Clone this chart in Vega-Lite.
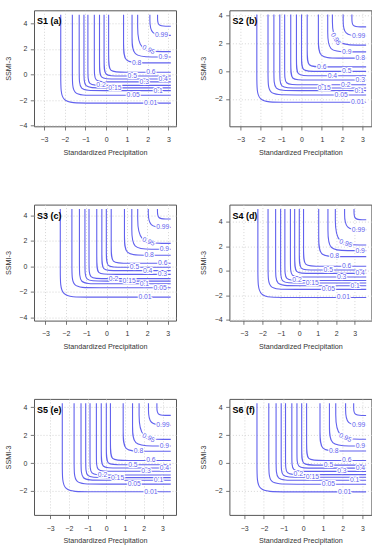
{
"$schema": "https://vega.github.io/schema/vega-lite/v6.json",
"background": "white",
"padding": {"left": 3, "top": 9.3, "right": 0, "bottom": 0},
"datasets": {
"lines": [
{"p":"S1","l":"0.01","i":0,"x":-2.19,"y":4.67},{"p":"S1","l":"0.01","i":1,"x":-2.19,"y":-0.53},{"p":"S1","l":"0.01","i":2,"x":-2.19,"y":-2.24},{"p":"S1","l":"0.01","i":3,"x":-1.13,"y":-2.24},{"p":"S1","l":"0.01","i":4,"x":3.12,"y":-2.24},
{"p":"S1","l":"0.05","i":0,"x":-1.63,"y":4.67},{"p":"S1","l":"0.05","i":1,"x":-1.63,"y":-0.23},{"p":"S1","l":"0.05","i":2,"x":-1.63,"y":-1.63},{"p":"S1","l":"0.05","i":3,"x":-0.76,"y":-1.63},{"p":"S1","l":"0.05","i":4,"x":3.12,"y":-1.63},
{"p":"S1","l":"0.1","i":0,"x":-1.30,"y":4.67},{"p":"S1","l":"0.1","i":1,"x":-1.30,"y":-0.09},{"p":"S1","l":"0.1","i":2,"x":-1.30,"y":-1.26},{"p":"S1","l":"0.1","i":3,"x":-0.58,"y":-1.26},{"p":"S1","l":"0.1","i":4,"x":3.12,"y":-1.26},
{"p":"S1","l":"0.15","i":0,"x":-1.07,"y":4.67},{"p":"S1","l":"0.15","i":1,"x":-1.07,"y":-0.04},{"p":"S1","l":"0.15","i":2,"x":-1.07,"y":-1.05},{"p":"S1","l":"0.15","i":3,"x":-0.44,"y":-1.05},{"p":"S1","l":"0.15","i":4,"x":3.12,"y":-1.05},
{"p":"S1","l":"0.2","i":0,"x":-0.88,"y":4.67},{"p":"S1","l":"0.2","i":1,"x":-0.88,"y":0.08},{"p":"S1","l":"0.2","i":2,"x":-0.88,"y":-0.85},{"p":"S1","l":"0.2","i":3,"x":-0.30,"y":-0.85},{"p":"S1","l":"0.2","i":4,"x":3.12,"y":-0.85},
{"p":"S1","l":"0.3","i":0,"x":-0.57,"y":4.67},{"p":"S1","l":"0.3","i":1,"x":-0.57,"y":0.35},{"p":"S1","l":"0.3","i":2,"x":-0.57,"y":-0.58},{"p":"S1","l":"0.3","i":3,"x":0.01,"y":-0.58},{"p":"S1","l":"0.3","i":4,"x":3.12,"y":-0.58},
{"p":"S1","l":"0.4","i":0,"x":-0.32,"y":4.67},{"p":"S1","l":"0.4","i":1,"x":-0.32,"y":0.58},{"p":"S1","l":"0.4","i":2,"x":-0.32,"y":-0.35},{"p":"S1","l":"0.4","i":3,"x":0.26,"y":-0.35},{"p":"S1","l":"0.4","i":4,"x":3.12,"y":-0.35},
{"p":"S1","l":"0.5","i":0,"x":-0.10,"y":4.67},{"p":"S1","l":"0.5","i":1,"x":-0.10,"y":0.81},{"p":"S1","l":"0.5","i":2,"x":-0.10,"y":-0.12},{"p":"S1","l":"0.5","i":3,"x":0.48,"y":-0.12},{"p":"S1","l":"0.5","i":4,"x":3.12,"y":-0.12},
{"p":"S1","l":"0.6","i":0,"x":0.12,"y":4.67},{"p":"S1","l":"0.6","i":1,"x":0.12,"y":1.18},{"p":"S1","l":"0.6","i":2,"x":0.12,"y":0.17},{"p":"S1","l":"0.6","i":3,"x":0.75,"y":0.17},{"p":"S1","l":"0.6","i":4,"x":3.12,"y":0.17},
{"p":"S1","l":"0.8","i":0,"x":0.84,"y":4.67},{"p":"S1","l":"0.8","i":1,"x":0.84,"y":2.30},{"p":"S1","l":"0.8","i":2,"x":0.84,"y":0.90},{"p":"S1","l":"0.8","i":3,"x":1.71,"y":0.90},{"p":"S1","l":"0.8","i":4,"x":3.12,"y":0.90},
{"p":"S1","l":"0.9","i":0,"x":1.25,"y":4.67},{"p":"S1","l":"0.9","i":1,"x":1.25,"y":2.92},{"p":"S1","l":"0.9","i":2,"x":1.25,"y":1.36},{"p":"S1","l":"0.9","i":3,"x":2.22,"y":1.36},{"p":"S1","l":"0.9","i":4,"x":3.12,"y":1.36},
{"p":"S1","l":"0.95","i":0,"x":1.52,"y":4.67},{"p":"S1","l":"0.95","i":1,"x":1.52,"y":3.96},{"p":"S1","l":"0.95","i":2,"x":1.52,"y":1.78},{"p":"S1","l":"0.95","i":3,"x":2.87,"y":1.78},{"p":"S1","l":"0.95","i":4,"x":3.12,"y":1.78},
{"p":"S1","l":"0.99","i":0,"x":2.11,"y":4.67},{"p":"S1","l":"0.99","i":1,"x":2.11,"y":4.45},{"p":"S1","l":"0.99","i":2,"x":2.11,"y":3.05},{"p":"S1","l":"0.99","i":3,"x":2.98,"y":3.05},{"p":"S1","l":"0.99","i":4,"x":3.12,"y":3.05},
{"p":"S1","l":"0.999","i":0,"x":2.48,"y":4.67},{"p":"S1","l":"0.999","i":1,"x":2.48,"y":4.47},{"p":"S1","l":"0.999","i":2,"x":2.48,"y":3.77},{"p":"S1","l":"0.999","i":3,"x":2.91,"y":3.77},{"p":"S1","l":"0.999","i":4,"x":3.12,"y":3.77},

{"p":"S2","l":"0.01","i":0,"x":-2.20,"y":4.05},{"p":"S2","l":"0.01","i":1,"x":-2.20,"y":-0.67},{"p":"S2","l":"0.01","i":2,"x":-2.20,"y":-2.24},{"p":"S2","l":"0.01","i":3,"x":-1.11,"y":-2.24},{"p":"S2","l":"0.01","i":4,"x":3.18,"y":-2.24},
{"p":"S2","l":"0.05","i":0,"x":-1.65,"y":4.05},{"p":"S2","l":"0.05","i":1,"x":-1.65,"y":-0.42},{"p":"S2","l":"0.05","i":2,"x":-1.65,"y":-1.71},{"p":"S2","l":"0.05","i":3,"x":-0.76,"y":-1.71},{"p":"S2","l":"0.05","i":4,"x":3.18,"y":-1.71},
{"p":"S2","l":"0.1","i":0,"x":-1.36,"y":4.05},{"p":"S2","l":"0.1","i":1,"x":-1.36,"y":-0.33},{"p":"S2","l":"0.1","i":2,"x":-1.36,"y":-1.40},{"p":"S2","l":"0.1","i":3,"x":-0.62,"y":-1.40},{"p":"S2","l":"0.1","i":4,"x":3.18,"y":-1.40},
{"p":"S2","l":"0.15","i":0,"x":-1.07,"y":4.05},{"p":"S2","l":"0.15","i":1,"x":-1.07,"y":-0.28},{"p":"S2","l":"0.15","i":2,"x":-1.07,"y":-1.21},{"p":"S2","l":"0.15","i":3,"x":-0.43,"y":-1.21},{"p":"S2","l":"0.15","i":4,"x":3.18,"y":-1.21},
{"p":"S2","l":"0.2","i":0,"x":-0.83,"y":4.05},{"p":"S2","l":"0.2","i":1,"x":-0.83,"y":-0.12},{"p":"S2","l":"0.2","i":2,"x":-0.83,"y":-0.98},{"p":"S2","l":"0.2","i":3,"x":-0.24,"y":-0.98},{"p":"S2","l":"0.2","i":4,"x":3.18,"y":-0.98},
{"p":"S2","l":"0.3","i":0,"x":-0.53,"y":4.05},{"p":"S2","l":"0.3","i":1,"x":-0.53,"y":0.22},{"p":"S2","l":"0.3","i":2,"x":-0.53,"y":-0.64},{"p":"S2","l":"0.3","i":3,"x":0.06,"y":-0.64},{"p":"S2","l":"0.3","i":4,"x":3.18,"y":-0.64},
{"p":"S2","l":"0.4","i":0,"x":-0.25,"y":4.05},{"p":"S2","l":"0.4","i":1,"x":-0.25,"y":0.53},{"p":"S2","l":"0.4","i":2,"x":-0.25,"y":-0.33},{"p":"S2","l":"0.4","i":3,"x":0.34,"y":-0.33},{"p":"S2","l":"0.4","i":4,"x":3.18,"y":-0.33},
{"p":"S2","l":"0.5","i":0,"x":0.0,"y":4.05},{"p":"S2","l":"0.5","i":1,"x":0.0,"y":0.84},{"p":"S2","l":"0.5","i":2,"x":0.0,"y":-0.02},{"p":"S2","l":"0.5","i":3,"x":0.59,"y":-0.02},{"p":"S2","l":"0.5","i":4,"x":3.18,"y":-0.02},
{"p":"S2","l":"0.6","i":0,"x":0.28,"y":4.05},{"p":"S2","l":"0.6","i":1,"x":0.28,"y":1.23},{"p":"S2","l":"0.6","i":2,"x":0.28,"y":0.30},{"p":"S2","l":"0.6","i":3,"x":0.92,"y":0.30},{"p":"S2","l":"0.6","i":4,"x":3.18,"y":0.30},
{"p":"S2","l":"0.8","i":0,"x":0.83,"y":4.05},{"p":"S2","l":"0.8","i":1,"x":0.83,"y":2.22},{"p":"S2","l":"0.8","i":2,"x":0.83,"y":0.93},{"p":"S2","l":"0.8","i":3,"x":1.72,"y":0.93},{"p":"S2","l":"0.8","i":4,"x":3.18,"y":0.93},
{"p":"S2","l":"0.9","i":0,"x":1.29,"y":4.05},{"p":"S2","l":"0.9","i":1,"x":1.29,"y":2.81},{"p":"S2","l":"0.9","i":2,"x":1.29,"y":1.38},{"p":"S2","l":"0.9","i":3,"x":2.28,"y":1.38},{"p":"S2","l":"0.9","i":4,"x":3.18,"y":1.38},
{"p":"S2","l":"0.95","i":0,"x":1.52,"y":4.05},{"p":"S2","l":"0.95","i":1,"x":1.52,"y":3.86},{"p":"S2","l":"0.95","i":2,"x":1.52,"y":1.86},{"p":"S2","l":"0.95","i":3,"x":2.91,"y":1.86},{"p":"S2","l":"0.95","i":4,"x":3.18,"y":1.86},
{"p":"S2","l":"0.99","i":0,"x":2.05,"y":4.05},{"p":"S2","l":"0.99","i":1,"x":2.05,"y":3.81},{"p":"S2","l":"0.99","i":2,"x":2.05,"y":2.52},{"p":"S2","l":"0.99","i":3,"x":2.94,"y":2.52},{"p":"S2","l":"0.99","i":4,"x":3.18,"y":2.52},
{"p":"S2","l":"0.999","i":0,"x":2.48,"y":4.05},{"p":"S2","l":"0.999","i":1,"x":2.48,"y":3.81},{"p":"S2","l":"0.999","i":2,"x":2.48,"y":3.17},{"p":"S2","l":"0.999","i":3,"x":2.93,"y":3.17},{"p":"S2","l":"0.999","i":4,"x":3.18,"y":3.17},

{"p":"S3","l":"0.01","i":0,"x":-2.27,"y":4.5},{"p":"S3","l":"0.01","i":1,"x":-2.27,"y":-0.68},{"p":"S3","l":"0.01","i":2,"x":-2.27,"y":-2.42},{"p":"S3","l":"0.01","i":3,"x":-1.19,"y":-2.42},{"p":"S3","l":"0.01","i":4,"x":3.15,"y":-2.42},
{"p":"S3","l":"0.05","i":0,"x":-1.70,"y":4.5},{"p":"S3","l":"0.05","i":1,"x":-1.70,"y":-0.26},{"p":"S3","l":"0.05","i":2,"x":-1.70,"y":-1.68},{"p":"S3","l":"0.05","i":3,"x":-0.82,"y":-1.68},{"p":"S3","l":"0.05","i":4,"x":3.15,"y":-1.68},
{"p":"S3","l":"0.1","i":0,"x":-1.33,"y":4.5},{"p":"S3","l":"0.1","i":1,"x":-1.33,"y":-0.19},{"p":"S3","l":"0.1","i":2,"x":-1.33,"y":-1.37},{"p":"S3","l":"0.1","i":3,"x":-0.60,"y":-1.37},{"p":"S3","l":"0.1","i":4,"x":3.15,"y":-1.37},
{"p":"S3","l":"0.15","i":0,"x":-1.06,"y":4.5},{"p":"S3","l":"0.15","i":1,"x":-1.06,"y":-0.13},{"p":"S3","l":"0.15","i":2,"x":-1.06,"y":-1.16},{"p":"S3","l":"0.15","i":3,"x":-0.42,"y":-1.16},{"p":"S3","l":"0.15","i":4,"x":3.15,"y":-1.16},
{"p":"S3","l":"0.2","i":0,"x":-0.86,"y":4.5},{"p":"S3","l":"0.2","i":1,"x":-0.86,"y":-0.02},{"p":"S3","l":"0.2","i":2,"x":-0.86,"y":-0.97},{"p":"S3","l":"0.2","i":3,"x":-0.27,"y":-0.97},{"p":"S3","l":"0.2","i":4,"x":3.15,"y":-0.97},
{"p":"S3","l":"0.3","i":0,"x":-0.48,"y":4.5},{"p":"S3","l":"0.3","i":1,"x":-0.48,"y":0.32},{"p":"S3","l":"0.3","i":2,"x":-0.48,"y":-0.63},{"p":"S3","l":"0.3","i":3,"x":0.11,"y":-0.63},{"p":"S3","l":"0.3","i":4,"x":3.15,"y":-0.63},
{"p":"S3","l":"0.4","i":0,"x":-0.23,"y":4.5},{"p":"S3","l":"0.4","i":1,"x":-0.23,"y":0.61},{"p":"S3","l":"0.4","i":2,"x":-0.23,"y":-0.34},{"p":"S3","l":"0.4","i":3,"x":0.36,"y":-0.34},{"p":"S3","l":"0.4","i":4,"x":3.15,"y":-0.34},
{"p":"S3","l":"0.5","i":0,"x":-0.01,"y":4.5},{"p":"S3","l":"0.5","i":1,"x":-0.01,"y":0.87},{"p":"S3","l":"0.5","i":2,"x":-0.01,"y":-0.08},{"p":"S3","l":"0.5","i":3,"x":0.58,"y":-0.08},{"p":"S3","l":"0.5","i":4,"x":3.15,"y":-0.08},
{"p":"S3","l":"0.6","i":0,"x":0.23,"y":4.5},{"p":"S3","l":"0.6","i":1,"x":0.23,"y":1.27},{"p":"S3","l":"0.6","i":2,"x":0.23,"y":0.24},{"p":"S3","l":"0.6","i":3,"x":0.87,"y":0.24},{"p":"S3","l":"0.6","i":4,"x":3.15,"y":0.24},
{"p":"S3","l":"0.8","i":0,"x":0.88,"y":4.5},{"p":"S3","l":"0.8","i":1,"x":0.88,"y":2.29},{"p":"S3","l":"0.8","i":2,"x":0.88,"y":0.87},{"p":"S3","l":"0.8","i":3,"x":1.76,"y":0.87},{"p":"S3","l":"0.8","i":4,"x":3.15,"y":0.87},
{"p":"S3","l":"0.9","i":0,"x":1.24,"y":4.5},{"p":"S3","l":"0.9","i":1,"x":1.24,"y":2.92},{"p":"S3","l":"0.9","i":2,"x":1.24,"y":1.34},{"p":"S3","l":"0.9","i":3,"x":2.22,"y":1.34},{"p":"S3","l":"0.9","i":4,"x":3.15,"y":1.34},
{"p":"S3","l":"0.95","i":0,"x":1.53,"y":4.5},{"p":"S3","l":"0.95","i":1,"x":1.53,"y":4.01},{"p":"S3","l":"0.95","i":2,"x":1.53,"y":1.80},{"p":"S3","l":"0.95","i":3,"x":2.90,"y":1.80},{"p":"S3","l":"0.95","i":4,"x":3.15,"y":1.80},
{"p":"S3","l":"0.99","i":0,"x":2.05,"y":4.5},{"p":"S3","l":"0.99","i":1,"x":2.05,"y":4.40},{"p":"S3","l":"0.99","i":2,"x":2.05,"y":3.05},{"p":"S3","l":"0.99","i":3,"x":2.93,"y":3.05},{"p":"S3","l":"0.99","i":4,"x":3.15,"y":3.05},
{"p":"S3","l":"0.999","i":0,"x":2.50,"y":4.5},{"p":"S3","l":"0.999","i":1,"x":2.50,"y":4.42},{"p":"S3","l":"0.999","i":2,"x":2.50,"y":3.71},{"p":"S3","l":"0.999","i":3,"x":2.94,"y":3.71},{"p":"S3","l":"0.999","i":4,"x":3.15,"y":3.71},

{"p":"S4","l":"0.01","i":0,"x":-2.24,"y":5.05},{"p":"S4","l":"0.01","i":1,"x":-2.24,"y":-0.38},{"p":"S4","l":"0.01","i":2,"x":-2.24,"y":-2.19},{"p":"S4","l":"0.01","i":3,"x":-1.04,"y":-2.19},{"p":"S4","l":"0.01","i":4,"x":3.62,"y":-2.19},
{"p":"S4","l":"0.05","i":0,"x":-1.69,"y":5.05},{"p":"S4","l":"0.05","i":1,"x":-1.69,"y":-0.05},{"p":"S4","l":"0.05","i":2,"x":-1.69,"y":-1.53},{"p":"S4","l":"0.05","i":3,"x":-0.71,"y":-1.53},{"p":"S4","l":"0.05","i":4,"x":3.62,"y":-1.53},
{"p":"S4","l":"0.1","i":0,"x":-1.28,"y":5.05},{"p":"S4","l":"0.1","i":1,"x":-1.28,"y":0.0},{"p":"S4","l":"0.1","i":2,"x":-1.28,"y":-1.23},{"p":"S4","l":"0.1","i":3,"x":-0.46,"y":-1.23},{"p":"S4","l":"0.1","i":4,"x":3.62,"y":-1.23},
{"p":"S4","l":"0.15","i":0,"x":-1.01,"y":5.05},{"p":"S4","l":"0.15","i":1,"x":-1.01,"y":0.06},{"p":"S4","l":"0.15","i":2,"x":-1.01,"y":-1.01},{"p":"S4","l":"0.15","i":3,"x":-0.30,"y":-1.01},{"p":"S4","l":"0.15","i":4,"x":3.62,"y":-1.01},
{"p":"S4","l":"0.2","i":0,"x":-0.78,"y":5.05},{"p":"S4","l":"0.2","i":1,"x":-0.78,"y":0.19},{"p":"S4","l":"0.2","i":2,"x":-0.78,"y":-0.80},{"p":"S4","l":"0.2","i":3,"x":-0.13,"y":-0.80},{"p":"S4","l":"0.2","i":4,"x":3.62,"y":-0.80},
{"p":"S4","l":"0.3","i":0,"x":-0.48,"y":5.05},{"p":"S4","l":"0.3","i":1,"x":-0.48,"y":0.47},{"p":"S4","l":"0.3","i":2,"x":-0.48,"y":-0.52},{"p":"S4","l":"0.3","i":3,"x":0.17,"y":-0.52},{"p":"S4","l":"0.3","i":4,"x":3.62,"y":-0.52},
{"p":"S4","l":"0.4","i":0,"x":-0.25,"y":5.05},{"p":"S4","l":"0.4","i":1,"x":-0.25,"y":0.77},{"p":"S4","l":"0.4","i":2,"x":-0.25,"y":-0.22},{"p":"S4","l":"0.4","i":3,"x":0.40,"y":-0.22},{"p":"S4","l":"0.4","i":4,"x":3.62,"y":-0.22},
{"p":"S4","l":"0.5","i":0,"x":0.0,"y":5.05},{"p":"S4","l":"0.5","i":1,"x":0.0,"y":1.04},{"p":"S4","l":"0.5","i":2,"x":0.0,"y":0.05},{"p":"S4","l":"0.5","i":3,"x":0.65,"y":0.05},{"p":"S4","l":"0.5","i":4,"x":3.62,"y":0.05},
{"p":"S4","l":"0.6","i":0,"x":0.23,"y":5.05},{"p":"S4","l":"0.6","i":1,"x":0.23,"y":1.43},{"p":"S4","l":"0.6","i":2,"x":0.23,"y":0.36},{"p":"S4","l":"0.6","i":3,"x":0.94,"y":0.36},{"p":"S4","l":"0.6","i":4,"x":3.62,"y":0.36},
{"p":"S4","l":"0.8","i":0,"x":1.05,"y":5.05},{"p":"S4","l":"0.8","i":1,"x":1.05,"y":2.63},{"p":"S4","l":"0.8","i":2,"x":1.05,"y":1.15},{"p":"S4","l":"0.8","i":3,"x":2.03,"y":1.15},{"p":"S4","l":"0.8","i":4,"x":3.62,"y":1.15},
{"p":"S4","l":"0.9","i":0,"x":1.55,"y":5.05},{"p":"S4","l":"0.9","i":1,"x":1.55,"y":3.28},{"p":"S4","l":"0.9","i":2,"x":1.55,"y":1.64},{"p":"S4","l":"0.9","i":3,"x":2.64,"y":1.64},{"p":"S4","l":"0.9","i":4,"x":3.62,"y":1.64},
{"p":"S4","l":"0.95","i":0,"x":1.95,"y":5.05},{"p":"S4","l":"0.95","i":1,"x":1.95,"y":4.40},{"p":"S4","l":"0.95","i":2,"x":1.95,"y":2.10},{"p":"S4","l":"0.95","i":3,"x":3.47,"y":2.10},{"p":"S4","l":"0.95","i":4,"x":3.62,"y":2.10},
{"p":"S4","l":"0.99","i":0,"x":2.45,"y":5.05},{"p":"S4","l":"0.99","i":1,"x":2.45,"y":4.82},{"p":"S4","l":"0.99","i":2,"x":2.45,"y":3.34},{"p":"S4","l":"0.99","i":3,"x":3.43,"y":3.34},{"p":"S4","l":"0.99","i":4,"x":3.62,"y":3.34},
{"p":"S4","l":"0.999","i":0,"x":2.96,"y":5.05},{"p":"S4","l":"0.999","i":1,"x":2.96,"y":4.90},{"p":"S4","l":"0.999","i":2,"x":2.96,"y":4.16},{"p":"S4","l":"0.999","i":3,"x":3.45,"y":4.16},{"p":"S4","l":"0.999","i":4,"x":3.62,"y":4.16},

{"p":"S5","l":"0.01","i":0,"x":-2.35,"y":4.3},{"p":"S5","l":"0.01","i":1,"x":-2.35,"y":-0.50},{"p":"S5","l":"0.01","i":2,"x":-2.35,"y":-2.06},{"p":"S5","l":"0.01","i":3,"x":-1.17,"y":-2.06},{"p":"S5","l":"0.01","i":4,"x":3.44,"y":-2.06},
{"p":"S5","l":"0.05","i":0,"x":-1.72,"y":4.3},{"p":"S5","l":"0.05","i":1,"x":-1.72,"y":-0.23},{"p":"S5","l":"0.05","i":2,"x":-1.72,"y":-1.51},{"p":"S5","l":"0.05","i":3,"x":-0.76,"y":-1.51},{"p":"S5","l":"0.05","i":4,"x":3.44,"y":-1.51},
{"p":"S5","l":"0.1","i":0,"x":-1.35,"y":4.3},{"p":"S5","l":"0.1","i":1,"x":-1.35,"y":-0.17},{"p":"S5","l":"0.1","i":2,"x":-1.35,"y":-1.23},{"p":"S5","l":"0.1","i":3,"x":-0.55,"y":-1.23},{"p":"S5","l":"0.1","i":4,"x":3.44,"y":-1.23},
{"p":"S5","l":"0.15","i":0,"x":-1.10,"y":4.3},{"p":"S5","l":"0.15","i":1,"x":-1.10,"y":-0.12},{"p":"S5","l":"0.15","i":2,"x":-1.10,"y":-1.04},{"p":"S5","l":"0.15","i":3,"x":-0.41,"y":-1.04},{"p":"S5","l":"0.15","i":4,"x":3.44,"y":-1.04},
{"p":"S5","l":"0.2","i":0,"x":-0.87,"y":4.3},{"p":"S5","l":"0.2","i":1,"x":-0.87,"y":0.0},{"p":"S5","l":"0.2","i":2,"x":-0.87,"y":-0.85},{"p":"S5","l":"0.2","i":3,"x":-0.23,"y":-0.85},{"p":"S5","l":"0.2","i":4,"x":3.44,"y":-0.85},
{"p":"S5","l":"0.3","i":0,"x":-0.53,"y":4.3},{"p":"S5","l":"0.3","i":1,"x":-0.53,"y":0.26},{"p":"S5","l":"0.3","i":2,"x":-0.53,"y":-0.59},{"p":"S5","l":"0.3","i":3,"x":0.11,"y":-0.59},{"p":"S5","l":"0.3","i":4,"x":3.44,"y":-0.59},
{"p":"S5","l":"0.4","i":0,"x":-0.27,"y":4.3},{"p":"S5","l":"0.4","i":1,"x":-0.27,"y":0.50},{"p":"S5","l":"0.4","i":2,"x":-0.27,"y":-0.35},{"p":"S5","l":"0.4","i":3,"x":0.37,"y":-0.35},{"p":"S5","l":"0.4","i":4,"x":3.44,"y":-0.35},
{"p":"S5","l":"0.5","i":0,"x":0.0,"y":4.3},{"p":"S5","l":"0.5","i":1,"x":0.0,"y":0.73},{"p":"S5","l":"0.5","i":2,"x":0.0,"y":-0.12},{"p":"S5","l":"0.5","i":3,"x":0.64,"y":-0.12},{"p":"S5","l":"0.5","i":4,"x":3.44,"y":-0.12},
{"p":"S5","l":"0.6","i":0,"x":0.22,"y":4.3},{"p":"S5","l":"0.6","i":1,"x":0.22,"y":1.11},{"p":"S5","l":"0.6","i":2,"x":0.22,"y":0.19},{"p":"S5","l":"0.6","i":3,"x":0.91,"y":0.19},{"p":"S5","l":"0.6","i":4,"x":3.44,"y":0.19},
{"p":"S5","l":"0.8","i":0,"x":0.90,"y":4.3},{"p":"S5","l":"0.8","i":1,"x":0.90,"y":2.13},{"p":"S5","l":"0.8","i":2,"x":0.90,"y":0.85},{"p":"S5","l":"0.8","i":3,"x":1.86,"y":0.85},{"p":"S5","l":"0.8","i":4,"x":3.44,"y":0.85},
{"p":"S5","l":"0.9","i":0,"x":1.40,"y":4.3},{"p":"S5","l":"0.9","i":1,"x":1.40,"y":2.65},{"p":"S5","l":"0.9","i":2,"x":1.40,"y":1.23},{"p":"S5","l":"0.9","i":3,"x":2.47,"y":1.23},{"p":"S5","l":"0.9","i":4,"x":3.44,"y":1.23},
{"p":"S5","l":"0.95","i":0,"x":1.75,"y":4.3},{"p":"S5","l":"0.95","i":1,"x":1.75,"y":3.69},{"p":"S5","l":"0.95","i":2,"x":1.75,"y":1.70},{"p":"S5","l":"0.95","i":3,"x":3.25,"y":1.70},{"p":"S5","l":"0.95","i":4,"x":3.44,"y":1.70},
{"p":"S5","l":"0.99","i":0,"x":2.25,"y":4.3},{"p":"S5","l":"0.99","i":1,"x":2.25,"y":4.00},{"p":"S5","l":"0.99","i":2,"x":2.25,"y":2.72},{"p":"S5","l":"0.99","i":3,"x":3.21,"y":2.72},{"p":"S5","l":"0.99","i":4,"x":3.44,"y":2.72},
{"p":"S5","l":"0.999","i":0,"x":2.70,"y":4.3},{"p":"S5","l":"0.999","i":1,"x":2.70,"y":4.07},{"p":"S5","l":"0.999","i":2,"x":2.70,"y":3.43},{"p":"S5","l":"0.999","i":3,"x":3.18,"y":3.43},{"p":"S5","l":"0.999","i":4,"x":3.44,"y":3.43},

{"p":"S6","l":"0.01","i":0,"x":-2.35,"y":4.29},{"p":"S6","l":"0.01","i":1,"x":-2.35,"y":-0.53},{"p":"S6","l":"0.01","i":2,"x":-2.35,"y":-2.09},{"p":"S6","l":"0.01","i":3,"x":-1.23,"y":-2.09},{"p":"S6","l":"0.01","i":4,"x":3.19,"y":-2.09},
{"p":"S6","l":"0.05","i":0,"x":-1.75,"y":4.29},{"p":"S6","l":"0.05","i":1,"x":-1.75,"y":-0.26},{"p":"S6","l":"0.05","i":2,"x":-1.75,"y":-1.54},{"p":"S6","l":"0.05","i":3,"x":-0.83,"y":-1.54},{"p":"S6","l":"0.05","i":4,"x":3.19,"y":-1.54},
{"p":"S6","l":"0.1","i":0,"x":-1.38,"y":4.29},{"p":"S6","l":"0.1","i":1,"x":-1.38,"y":-0.19},{"p":"S6","l":"0.1","i":2,"x":-1.38,"y":-1.26},{"p":"S6","l":"0.1","i":3,"x":-0.61,"y":-1.26},{"p":"S6","l":"0.1","i":4,"x":3.19,"y":-1.26},
{"p":"S6","l":"0.15","i":0,"x":-1.12,"y":4.29},{"p":"S6","l":"0.15","i":1,"x":-1.12,"y":-0.12},{"p":"S6","l":"0.15","i":2,"x":-1.12,"y":-1.04},{"p":"S6","l":"0.15","i":3,"x":-0.46,"y":-1.04},{"p":"S6","l":"0.15","i":4,"x":3.19,"y":-1.04},
{"p":"S6","l":"0.2","i":0,"x":-0.90,"y":4.29},{"p":"S6","l":"0.2","i":1,"x":-0.90,"y":0.0},{"p":"S6","l":"0.2","i":2,"x":-0.90,"y":-0.85},{"p":"S6","l":"0.2","i":3,"x":-0.29,"y":-0.85},{"p":"S6","l":"0.2","i":4,"x":3.19,"y":-0.85},
{"p":"S6","l":"0.3","i":0,"x":-0.58,"y":4.29},{"p":"S6","l":"0.3","i":1,"x":-0.58,"y":0.23},{"p":"S6","l":"0.3","i":2,"x":-0.58,"y":-0.62},{"p":"S6","l":"0.3","i":3,"x":0.03,"y":-0.62},{"p":"S6","l":"0.3","i":4,"x":3.19,"y":-0.62},
{"p":"S6","l":"0.4","i":0,"x":-0.32,"y":4.29},{"p":"S6","l":"0.4","i":1,"x":-0.32,"y":0.47},{"p":"S6","l":"0.4","i":2,"x":-0.32,"y":-0.38},{"p":"S6","l":"0.4","i":3,"x":0.29,"y":-0.38},{"p":"S6","l":"0.4","i":4,"x":3.19,"y":-0.38},
{"p":"S6","l":"0.5","i":0,"x":-0.08,"y":4.29},{"p":"S6","l":"0.5","i":1,"x":-0.08,"y":0.68},{"p":"S6","l":"0.5","i":2,"x":-0.08,"y":-0.17},{"p":"S6","l":"0.5","i":3,"x":0.53,"y":-0.17},{"p":"S6","l":"0.5","i":4,"x":3.19,"y":-0.17},
{"p":"S6","l":"0.6","i":0,"x":0.17,"y":4.29},{"p":"S6","l":"0.6","i":1,"x":0.17,"y":1.09},{"p":"S6","l":"0.6","i":2,"x":0.17,"y":0.17},{"p":"S6","l":"0.6","i":3,"x":0.83,"y":0.17},{"p":"S6","l":"0.6","i":4,"x":3.19,"y":0.17},
{"p":"S6","l":"0.8","i":0,"x":0.85,"y":4.29},{"p":"S6","l":"0.8","i":1,"x":0.85,"y":2.13},{"p":"S6","l":"0.8","i":2,"x":0.85,"y":0.85},{"p":"S6","l":"0.8","i":3,"x":1.77,"y":0.85},{"p":"S6","l":"0.8","i":4,"x":3.19,"y":0.85},
{"p":"S6","l":"0.9","i":0,"x":1.33,"y":4.29},{"p":"S6","l":"0.9","i":1,"x":1.33,"y":2.63},{"p":"S6","l":"0.9","i":2,"x":1.33,"y":1.21},{"p":"S6","l":"0.9","i":3,"x":2.35,"y":1.21},{"p":"S6","l":"0.9","i":4,"x":3.19,"y":1.21},
{"p":"S6","l":"0.95","i":0,"x":1.65,"y":4.29},{"p":"S6","l":"0.95","i":1,"x":1.65,"y":3.69},{"p":"S6","l":"0.95","i":2,"x":1.65,"y":1.70},{"p":"S6","l":"0.95","i":3,"x":3.08,"y":1.70},{"p":"S6","l":"0.95","i":4,"x":3.19,"y":1.70},
{"p":"S6","l":"0.99","i":0,"x":2.15,"y":4.29},{"p":"S6","l":"0.99","i":1,"x":2.15,"y":3.98},{"p":"S6","l":"0.99","i":2,"x":2.15,"y":2.70},{"p":"S6","l":"0.99","i":3,"x":3.07,"y":2.70},{"p":"S6","l":"0.99","i":4,"x":3.19,"y":2.70},
{"p":"S6","l":"0.999","i":0,"x":2.56,"y":4.29},{"p":"S6","l":"0.999","i":1,"x":2.56,"y":4.05},{"p":"S6","l":"0.999","i":2,"x":2.56,"y":3.41},{"p":"S6","l":"0.999","i":3,"x":3.02,"y":3.41},{"p":"S6","l":"0.999","i":4,"x":3.19,"y":3.41}
],
"labels": [
{"p":"S1","l":"0.99","x":2.67,"y":3.05},{"p":"S1","l":"0.95","x":2.05,"y":1.93},{"p":"S1","l":"0.9","x":2.75,"y":1.36},{"p":"S1","l":"0.8","x":1.47,"y":0.91},{"p":"S1","l":"0.6","x":2.16,"y":0.17},{"p":"S1","l":"0.5","x":1.26,"y":-0.12},{"p":"S1","l":"0.4","x":2.75,"y":-0.35},{"p":"S1","l":"0.3","x":1.84,"y":-0.58},{"p":"S1","l":"0.2","x":-0.25,"y":-0.84},{"p":"S1","l":"0.15","x":0.42,"y":-1.05},{"p":"S1","l":"0.1","x":2.51,"y":-1.26},{"p":"S1","l":"0.05","x":1.30,"y":-1.63},{"p":"S1","l":"0.01","x":2.15,"y":-2.24},
{"p":"S2","l":"0.99","x":2.81,"y":2.52},{"p":"S2","l":"0.95","x":1.68,"y":2.3},{"p":"S2","l":"0.9","x":2.23,"y":1.38},{"p":"S2","l":"0.8","x":2.89,"y":0.93},{"p":"S2","l":"0.6","x":1.0,"y":0.30},{"p":"S2","l":"0.5","x":2.23,"y":-0.02},{"p":"S2","l":"0.4","x":1.52,"y":-0.33},{"p":"S2","l":"0.3","x":2.89,"y":-0.64},{"p":"S2","l":"0.2","x":2.18,"y":-0.98},{"p":"S2","l":"0.15","x":1.12,"y":-1.21},{"p":"S2","l":"0.1","x":2.84,"y":-1.40},{"p":"S2","l":"0.05","x":1.95,"y":-1.71},{"p":"S2","l":"0.01","x":2.76,"y":-2.24},
{"p":"S3","l":"0.99","x":2.76,"y":3.05},{"p":"S3","l":"0.95","x":2.06,"y":1.93},{"p":"S3","l":"0.9","x":2.84,"y":1.34},{"p":"S3","l":"0.8","x":2.09,"y":0.87},{"p":"S3","l":"0.6","x":2.76,"y":0.24},{"p":"S3","l":"0.5","x":1.37,"y":-0.08},{"p":"S3","l":"0.4","x":2.02,"y":-0.34},{"p":"S3","l":"0.3","x":2.74,"y":-0.63},{"p":"S3","l":"0.2","x":0.34,"y":-0.97},{"p":"S3","l":"0.15","x":1.11,"y":-1.16},{"p":"S3","l":"0.1","x":1.86,"y":-1.37},{"p":"S3","l":"0.05","x":2.63,"y":-1.68},{"p":"S3","l":"0.01","x":1.89,"y":-2.42},
{"p":"S4","l":"0.99","x":3.2,"y":3.34},{"p":"S4","l":"0.95","x":2.51,"y":2.23},{"p":"S4","l":"0.9","x":3.29,"y":1.64},{"p":"S4","l":"0.8","x":1.9,"y":1.17},{"p":"S4","l":"0.6","x":2.56,"y":0.36},{"p":"S4","l":"0.5","x":1.57,"y":0.05},{"p":"S4","l":"0.4","x":3.29,"y":-0.22},{"p":"S4","l":"0.3","x":2.29,"y":-0.52},{"p":"S4","l":"0.2","x":-0.12,"y":-0.79},{"p":"S4","l":"0.15","x":0.70,"y":-1.01},{"p":"S4","l":"0.1","x":3.02,"y":-1.23},{"p":"S4","l":"0.05","x":1.57,"y":-1.53},{"p":"S4","l":"0.01","x":2.38,"y":-2.19},
{"p":"S5","l":"0.99","x":3.02,"y":2.72},{"p":"S5","l":"0.95","x":2.26,"y":1.81},{"p":"S5","l":"0.9","x":3.10,"y":1.23},{"p":"S5","l":"0.8","x":1.72,"y":0.87},{"p":"S5","l":"0.6","x":2.38,"y":0.19},{"p":"S5","l":"0.5","x":1.42,"y":-0.12},{"p":"S5","l":"0.4","x":3.10,"y":-0.35},{"p":"S5","l":"0.3","x":2.12,"y":-0.59},{"p":"S5","l":"0.2","x":-0.2,"y":-0.84},{"p":"S5","l":"0.15","x":0.60,"y":-1.04},{"p":"S5","l":"0.1","x":2.79,"y":-1.23},{"p":"S5","l":"0.05","x":1.49,"y":-1.51},{"p":"S5","l":"0.01","x":2.38,"y":-2.06},
{"p":"S6","l":"0.99","x":2.81,"y":2.70},{"p":"S6","l":"0.95","x":2.13,"y":1.81},{"p":"S6","l":"0.9","x":2.90,"y":1.21},{"p":"S6","l":"0.8","x":1.55,"y":0.87},{"p":"S6","l":"0.6","x":2.21,"y":0.17},{"p":"S6","l":"0.5","x":1.28,"y":-0.17},{"p":"S6","l":"0.4","x":2.90,"y":-0.38},{"p":"S6","l":"0.3","x":1.96,"y":-0.62},{"p":"S6","l":"0.2","x":-0.25,"y":-0.84},{"p":"S6","l":"0.15","x":0.46,"y":-1.04},{"p":"S6","l":"0.1","x":2.61,"y":-1.26},{"p":"S6","l":"0.05","x":1.28,"y":-1.54},{"p":"S6","l":"0.01","x":2.10,"y":-2.09}
]
},
"columns": 2,
"spacing": {"row": 78.3, "column": 53.4},
"bounds": "flush",
"concat": [
{
 "width": 142, "height": 116, "title": "S1 (a)",
 "encoding": {
  "x": {"field": "x", "type": "quantitative", "title": "Standardized Precipitation", "scale": {"domain": [-3.48, 3.37], "nice": false, "zero": false}, "axis": {"values": [-3,-2,-1,0,1,2,3]}},
  "y": {"field": "y", "type": "quantitative", "title": "SSMI-3", "scale": {"domain": [-4.05, 5.01], "nice": false, "zero": false}, "axis": {"values": [-4,-2,0,2,4]}}
 },
 "layer": [
  {"data": {"name": "lines"}, "transform": [{"filter": "datum.p == 'S1'"}], "mark": {"type": "line", "interpolate": "basis", "color": "#6262ee", "strokeWidth": 1.1}, "encoding": {"detail": {"field": "l", "type": "nominal"}, "order": {"field": "i", "type": "quantitative"}}},
  {"data": {"name": "labels"}, "transform": [{"filter": "datum.p == 'S1' && datum.l != '0.95'"}], "mark": {"type": "text", "fontSize": 6.8, "color": "white", "stroke": "white", "strokeWidth": 2.2}, "encoding": {"text": {"field": "l"}}},
  {"data": {"name": "labels"}, "transform": [{"filter": "datum.p == 'S1' && datum.l != '0.95'"}], "mark": {"type": "text", "fontSize": 6.8, "color": "#6262ee"}, "encoding": {"text": {"field": "l"}}},
  {"data": {"name": "labels"}, "transform": [{"filter": "datum.p == 'S1' && datum.l == '0.95'"}], "mark": {"type": "text", "fontSize": 6.8, "angle": 25, "color": "white", "stroke": "white", "strokeWidth": 2.2}, "encoding": {"text": {"field": "l"}}},
  {"data": {"name": "labels"}, "transform": [{"filter": "datum.p == 'S1' && datum.l == '0.95'"}], "mark": {"type": "text", "fontSize": 6.8, "angle": 25, "color": "#6262ee"}, "encoding": {"text": {"field": "l"}}}
 ]
},
{
 "width": 142, "height": 116, "title": "S2 (b)",
 "encoding": {
  "x": {"field": "x", "type": "quantitative", "title": "Standardized Precipitation", "scale": {"domain": [-3.55, 3.44], "nice": false, "zero": false}, "axis": {"values": [-3,-2,-1,0,1,2,3]}},
  "y": {"field": "y", "type": "quantitative", "title": "SSMI-3", "scale": {"domain": [-3.96, 4.36], "nice": false, "zero": false}, "axis": {"values": [-2,0,2,4]}}
 },
 "layer": [
  {"data": {"name": "lines"}, "transform": [{"filter": "datum.p == 'S2'"}], "mark": {"type": "line", "interpolate": "basis", "color": "#6262ee", "strokeWidth": 1.1}, "encoding": {"detail": {"field": "l", "type": "nominal"}, "order": {"field": "i", "type": "quantitative"}}},
  {"data": {"name": "labels"}, "transform": [{"filter": "datum.p == 'S2' && datum.l != '0.95'"}], "mark": {"type": "text", "fontSize": 6.8, "color": "white", "stroke": "white", "strokeWidth": 2.2}, "encoding": {"text": {"field": "l"}}},
  {"data": {"name": "labels"}, "transform": [{"filter": "datum.p == 'S2' && datum.l != '0.95'"}], "mark": {"type": "text", "fontSize": 6.8, "color": "#6262ee"}, "encoding": {"text": {"field": "l"}}},
  {"data": {"name": "labels"}, "transform": [{"filter": "datum.p == 'S2' && datum.l == '0.95'"}], "mark": {"type": "text", "fontSize": 6.8, "angle": 58, "color": "white", "stroke": "white", "strokeWidth": 2.2}, "encoding": {"text": {"field": "l"}}},
  {"data": {"name": "labels"}, "transform": [{"filter": "datum.p == 'S2' && datum.l == '0.95'"}], "mark": {"type": "text", "fontSize": 6.8, "angle": 58, "color": "#6262ee"}, "encoding": {"text": {"field": "l"}}}
 ]
},
{
 "width": 142, "height": 116, "title": "S3 (c)",
 "encoding": {
  "x": {"field": "x", "type": "quantitative", "title": "Standardized Precipitation", "scale": {"domain": [-3.56, 3.41], "nice": false, "zero": false}, "axis": {"values": [-3,-2,-1,0,1,2,3]}},
  "y": {"field": "y", "type": "quantitative", "title": "SSMI-3", "scale": {"domain": [-4.26, 4.84], "nice": false, "zero": false}, "axis": {"values": [-4,-2,0,2,4]}}
 },
 "layer": [
  {"data": {"name": "lines"}, "transform": [{"filter": "datum.p == 'S3'"}], "mark": {"type": "line", "interpolate": "basis", "color": "#6262ee", "strokeWidth": 1.1}, "encoding": {"detail": {"field": "l", "type": "nominal"}, "order": {"field": "i", "type": "quantitative"}}},
  {"data": {"name": "labels"}, "transform": [{"filter": "datum.p == 'S3' && datum.l != '0.95'"}], "mark": {"type": "text", "fontSize": 6.8, "color": "white", "stroke": "white", "strokeWidth": 2.2}, "encoding": {"text": {"field": "l"}}},
  {"data": {"name": "labels"}, "transform": [{"filter": "datum.p == 'S3' && datum.l != '0.95'"}], "mark": {"type": "text", "fontSize": 6.8, "color": "#6262ee"}, "encoding": {"text": {"field": "l"}}},
  {"data": {"name": "labels"}, "transform": [{"filter": "datum.p == 'S3' && datum.l == '0.95'"}], "mark": {"type": "text", "fontSize": 6.8, "angle": 22, "color": "white", "stroke": "white", "strokeWidth": 2.2}, "encoding": {"text": {"field": "l"}}},
  {"data": {"name": "labels"}, "transform": [{"filter": "datum.p == 'S3' && datum.l == '0.95'"}], "mark": {"type": "text", "fontSize": 6.8, "angle": 22, "color": "#6262ee"}, "encoding": {"text": {"field": "l"}}}
 ]
},
{
 "width": 142, "height": 116, "title": "S4 (d)",
 "encoding": {
  "x": {"field": "x", "type": "quantitative", "title": "Standardized Precipitation", "scale": {"domain": [-3.78, 3.90], "nice": false, "zero": false}, "axis": {"values": [-3,-2,-1,0,1,2,3]}},
  "y": {"field": "y", "type": "quantitative", "title": "SSMI-3", "scale": {"domain": [-4.08, 5.40], "nice": false, "zero": false}, "axis": {"values": [-4,-2,0,2,4]}}
 },
 "layer": [
  {"data": {"name": "lines"}, "transform": [{"filter": "datum.p == 'S4'"}], "mark": {"type": "line", "interpolate": "basis", "color": "#6262ee", "strokeWidth": 1.1}, "encoding": {"detail": {"field": "l", "type": "nominal"}, "order": {"field": "i", "type": "quantitative"}}},
  {"data": {"name": "labels"}, "transform": [{"filter": "datum.p == 'S4' && datum.l != '0.95'"}], "mark": {"type": "text", "fontSize": 6.8, "color": "white", "stroke": "white", "strokeWidth": 2.2}, "encoding": {"text": {"field": "l"}}},
  {"data": {"name": "labels"}, "transform": [{"filter": "datum.p == 'S4' && datum.l != '0.95'"}], "mark": {"type": "text", "fontSize": 6.8, "color": "#6262ee"}, "encoding": {"text": {"field": "l"}}},
  {"data": {"name": "labels"}, "transform": [{"filter": "datum.p == 'S4' && datum.l == '0.95'"}], "mark": {"type": "text", "fontSize": 6.8, "angle": 20, "color": "white", "stroke": "white", "strokeWidth": 2.2}, "encoding": {"text": {"field": "l"}}},
  {"data": {"name": "labels"}, "transform": [{"filter": "datum.p == 'S4' && datum.l == '0.95'"}], "mark": {"type": "text", "fontSize": 6.8, "angle": 20, "color": "#6262ee"}, "encoding": {"text": {"field": "l"}}}
 ]
},
{
 "width": 142, "height": 116, "title": "S5 (e)",
 "encoding": {
  "x": {"field": "x", "type": "quantitative", "title": "Standardized Precipitation", "scale": {"domain": [-3.86, 3.72], "nice": false, "zero": false}, "axis": {"values": [-3,-2,-1,0,1,2,3]}},
  "y": {"field": "y", "type": "quantitative", "title": "SSMI-3", "scale": {"domain": [-3.72, 4.61], "nice": false, "zero": false}, "axis": {"values": [-2,0,2,4]}}
 },
 "layer": [
  {"data": {"name": "lines"}, "transform": [{"filter": "datum.p == 'S5'"}], "mark": {"type": "line", "interpolate": "basis", "color": "#6262ee", "strokeWidth": 1.1}, "encoding": {"detail": {"field": "l", "type": "nominal"}, "order": {"field": "i", "type": "quantitative"}}},
  {"data": {"name": "labels"}, "transform": [{"filter": "datum.p == 'S5' && datum.l != '0.95'"}], "mark": {"type": "text", "fontSize": 6.8, "color": "white", "stroke": "white", "strokeWidth": 2.2}, "encoding": {"text": {"field": "l"}}},
  {"data": {"name": "labels"}, "transform": [{"filter": "datum.p == 'S5' && datum.l != '0.95'"}], "mark": {"type": "text", "fontSize": 6.8, "color": "#6262ee"}, "encoding": {"text": {"field": "l"}}},
  {"data": {"name": "labels"}, "transform": [{"filter": "datum.p == 'S5' && datum.l == '0.95'"}], "mark": {"type": "text", "fontSize": 6.8, "angle": 25, "color": "white", "stroke": "white", "strokeWidth": 2.2}, "encoding": {"text": {"field": "l"}}},
  {"data": {"name": "labels"}, "transform": [{"filter": "datum.p == 'S5' && datum.l == '0.95'"}], "mark": {"type": "text", "fontSize": 6.8, "angle": 25, "color": "#6262ee"}, "encoding": {"text": {"field": "l"}}}
 ]
},
{
 "width": 142, "height": 116, "title": "S6 (f)",
 "encoding": {
  "x": {"field": "x", "type": "quantitative", "title": "Standardized Precipitation", "scale": {"domain": [-3.75, 3.46], "nice": false, "zero": false}, "axis": {"values": [-3,-2,-1,0,1,2,3]}},
  "y": {"field": "y", "type": "quantitative", "title": "SSMI-3", "scale": {"domain": [-3.75, 4.60], "nice": false, "zero": false}, "axis": {"values": [-2,0,2,4]}}
 },
 "layer": [
  {"data": {"name": "lines"}, "transform": [{"filter": "datum.p == 'S6'"}], "mark": {"type": "line", "interpolate": "basis", "color": "#6262ee", "strokeWidth": 1.1}, "encoding": {"detail": {"field": "l", "type": "nominal"}, "order": {"field": "i", "type": "quantitative"}}},
  {"data": {"name": "labels"}, "transform": [{"filter": "datum.p == 'S6' && datum.l != '0.95'"}], "mark": {"type": "text", "fontSize": 6.8, "color": "white", "stroke": "white", "strokeWidth": 2.2}, "encoding": {"text": {"field": "l"}}},
  {"data": {"name": "labels"}, "transform": [{"filter": "datum.p == 'S6' && datum.l != '0.95'"}], "mark": {"type": "text", "fontSize": 6.8, "color": "#6262ee"}, "encoding": {"text": {"field": "l"}}},
  {"data": {"name": "labels"}, "transform": [{"filter": "datum.p == 'S6' && datum.l == '0.95'"}], "mark": {"type": "text", "fontSize": 6.8, "angle": 25, "color": "white", "stroke": "white", "strokeWidth": 2.2}, "encoding": {"text": {"field": "l"}}},
  {"data": {"name": "labels"}, "transform": [{"filter": "datum.p == 'S6' && datum.l == '0.95'"}], "mark": {"type": "text", "fontSize": 6.8, "angle": 25, "color": "#6262ee"}, "encoding": {"text": {"field": "l"}}}
 ]
}
],
"config": {
 "font": "Liberation Sans",
 "view": {"stroke": "#555555", "strokeWidth": 1},
 "text": {"font": "Liberation Sans"},
 "axis": {"domain": false, "grid": true, "gridColor": "#cccccc", "gridDash": [1, 2], "gridWidth": 0.8, "ticks": true, "tickColor": "#555555", "tickSize": 3.7, "tickWidth": 0.8, "labelFont": "Liberation Sans", "labelFontSize": 7, "labelColor": "#333333", "labelFlush": false, "labelOverlap": false, "titleFont": "Liberation Sans", "titleFontSize": 7.2, "titleFontWeight": "normal", "titleColor": "#333333"},
 "axisX": {"labelPadding": 5.5, "titleX": 71, "titleY": 26, "titleBaseline": "middle", "titleAlign": "center"},
 "axisY": {"labelPadding": 3.5, "titleX": -26, "titleY": 58, "titleBaseline": "middle", "titleAlign": "center", "titleAngle": -90},
 "title": {"anchor": "start", "frame": "group", "font": "Liberation Sans", "fontSize": 9, "fontWeight": "bold", "color": "#000000", "offset": -16, "baseline": "top", "dx": 3, "dy": 0}
}
}
